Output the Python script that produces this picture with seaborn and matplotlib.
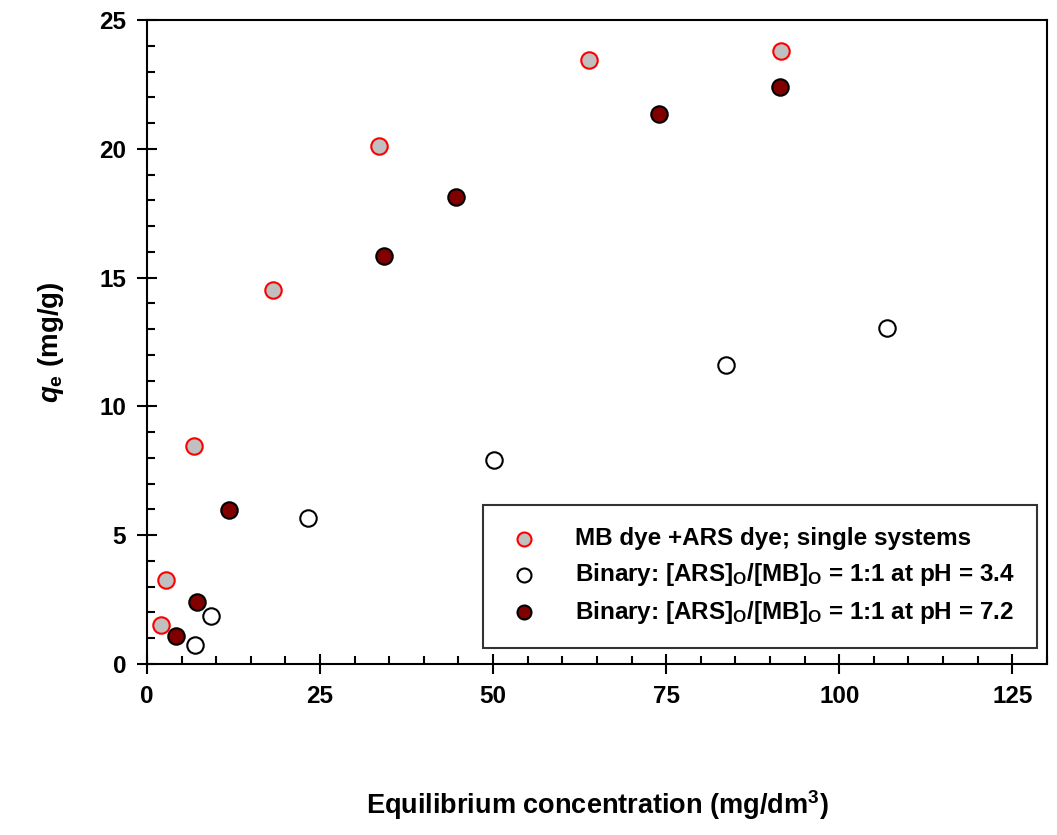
import numpy as np
import pandas as pd
import matplotlib
matplotlib.use("Agg")
import matplotlib.pyplot as plt
from matplotlib.ticker import MultipleLocator
import seaborn as sns

# values
single_x = [2.0, 2.7, 6.8, 18.2, 33.5, 63.8, 91.6]
single_y = [1.49, 3.25, 8.46, 14.52, 20.12, 23.45, 23.79]

ph34_x = [7.0, 9.2, 23.3, 50.2, 83.6, 106.9]
ph34_y = [0.74, 1.86, 5.66, 7.92, 11.61, 13.04]

ph72_x = [4.2, 7.25, 11.8, 34.3, 44.7, 74.0, 91.4]
ph72_y = [1.09, 2.40, 5.97, 15.84, 18.14, 21.34, 22.40]

labels = [
    "MB dye +ARS dye; single systems",
    r"Binary: [ARS]$_{\mathbf{O}}$/[MB]$_{\mathbf{O}}$ = 1:1 at pH = 3.4",
    r"Binary: [ARS]$_{\mathbf{O}}$/[MB]$_{\mathbf{O}}$ = 1:1 at pH = 7.2",
]

sns.set_style("ticks")
plt.rcParams['font.family'] = ['Liberation Sans', 'DejaVu Sans']
plt.rcParams['font.weight'] = 'bold'
plt.rcParams['text.color'] = 'black'
plt.rcParams['axes.labelcolor'] = 'black'
plt.rcParams['xtick.color'] = 'black'
plt.rcParams['ytick.color'] = 'black'
plt.rcParams['mathtext.fontset'] = 'custom'
plt.rcParams['mathtext.rm'] = 'Liberation Sans:bold'
plt.rcParams['mathtext.bf'] = 'Liberation Sans:bold'
plt.rcParams['mathtext.it'] = 'Liberation Sans:bold:italic'

fig = plt.figure(figsize=(10.57, 8.35), dpi=100)
ax = fig.add_axes([0.139, 0.205, 0.8515, 0.771])

series = [
    (single_x, single_y, "#c0c0c0", "#ff0000", labels[0]),
    (ph34_x, ph34_y, "white", "black", labels[1]),
    (ph72_x, ph72_y, "#800000", "black", labels[2]),
]
for xs, ys, fc, ec, lab in series:
    df = pd.DataFrame({"x": xs, "y": ys})
    sns.scatterplot(data=df, x="x", y="y", ax=ax, color=fc, edgecolor=ec,
                    linewidth=1.5, s=140, label=lab, zorder=3)

ax.set_xlim(0, 130)
ax.set_ylim(0, 25)
ax.xaxis.set_minor_locator(MultipleLocator(5))
ax.yaxis.set_major_locator(MultipleLocator(5))
ax.yaxis.set_minor_locator(MultipleLocator(1))
ax.set_xticks([0, 25, 50, 75, 100, 125])
ax.tick_params(which='major', direction='inout', length=14, width=1.5,
               labelsize=17.5, pad=8, bottom=True, left=True,
               top=False, right=False)
ax.tick_params(which='minor', direction='in', length=6, width=1.5,
               bottom=True, left=True, top=False, right=False)
for lbl in ax.get_xticklabels() + ax.get_yticklabels():
    lbl.set_fontweight('bold')
for s in ax.spines.values():
    s.set_visible(True)
    s.set_linewidth(1.5)
    s.set_color('black')

ax.set_xlabel(r"Equilibrium concentration (mg/dm$^3$)", fontsize=19.5,
              fontweight='bold', labelpad=58)
ax.set_ylabel(r"$q_\mathbf{e}$ (mg/g)", fontsize=20, fontweight='bold',
              labelpad=24)

leg = ax.legend(loc='lower right', bbox_to_anchor=(0.989, 0.025),
                fontsize=17.5, frameon=True, fancybox=False, markerscale=0.85,
                borderpad=0.9, labelspacing=0.45, handlelength=1.6,
                handletextpad=1.3, borderaxespad=0)
leg.get_frame().set_edgecolor('black')
leg.get_frame().set_linewidth(1.5)
for t in leg.get_texts():
    t.set_fontweight('bold')

fig.savefig("out.png", dpi=100)
